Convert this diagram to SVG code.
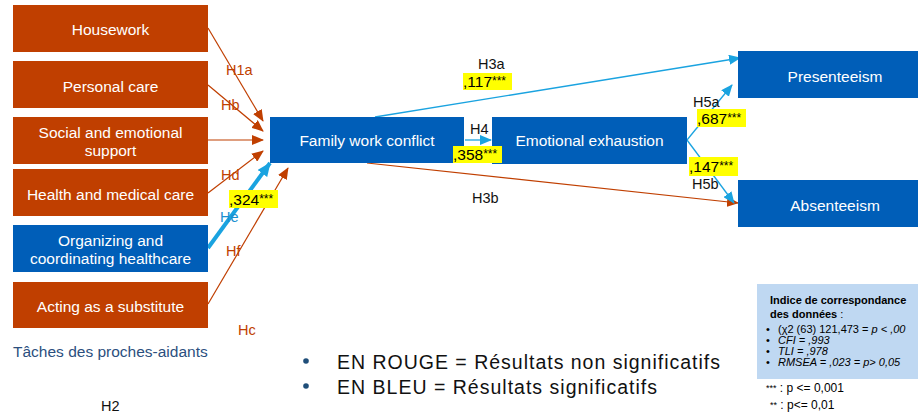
<svg xmlns="http://www.w3.org/2000/svg" width="918" height="416" viewBox="0 0 918 416">
<style>
  text { font-family: "Liberation Sans", Arial, sans-serif; }
  .red { fill: #C03F00; }
  .blue { fill: #005EB8; }
  .bt { fill: #FFFFFF; font-size: 15.5px; text-anchor: middle; }
  .hl { fill: #C03F00; font-size: 14.5px; }
  .hb { fill: #111111; font-size: 14.5px; }
  .yl { fill: #FFFF00; }
  .val { fill: #000000; font-size: 15.5px; }
  .st { font-size: 12px; }
  .lr { fill: none; stroke: #C03F00; stroke-width: 1.2; marker-end: url(#ar); }
  .lb { fill: none; stroke: #1AA3E0; stroke-width: 1.3; marker-end: url(#ab); }
  .fit { font-size: 11px; fill: #000; }
</style>
<defs>
  <marker id="ar" markerUnits="userSpaceOnUse" markerWidth="12" markerHeight="10" refX="11" refY="5" orient="auto">
    <path d="M0,0 L12,5 L0,10 z" fill="#C03F00"/>
  </marker>
  <marker id="ab" markerUnits="userSpaceOnUse" markerWidth="12" markerHeight="10" refX="11" refY="5" orient="auto">
    <path d="M0,0 L12,5 L0,10 z" fill="#1AA3E0"/>
  </marker>
  <marker id="abb" markerUnits="userSpaceOnUse" markerWidth="14" markerHeight="12" refX="13" refY="6" orient="auto">
    <path d="M0,0 L14,6 L0,12 z" fill="#1AA3E0"/>
  </marker>
</defs>

<g id="connectors">
  <line class="lr" x1="208" y1="28" x2="263" y2="121"/>
  <line class="lr" x1="208" y1="85" x2="263" y2="131"/>
  <line class="lr" x1="208" y1="140" x2="263" y2="140"/>
  <line class="lr" x1="208" y1="193" x2="263" y2="151"/>
  <line x1="208" y1="248" x2="270" y2="163" stroke="#1AA3E0" stroke-width="4" marker-end="url(#abb)"/>
  <line class="lr" x1="208" y1="304" x2="288" y2="168"/>
  <line class="lb" x1="375" y1="117" x2="740" y2="58"/>
  <line class="lb" x1="465" y1="140" x2="491" y2="140"/>
  <line class="lr" x1="367" y1="163" x2="738" y2="203"/>
  <line class="lb" x1="687" y1="140" x2="732" y2="85"/>
  <line class="lb" x1="687" y1="140" x2="734" y2="203"/>
</g>

<g id="housework">
  <rect class="red" x="13" y="5" width="195" height="47"/>
  <text class="bt" x="110.5" y="35">Housework</text>
</g>
<g id="personal-care">
  <rect class="red" x="13" y="61" width="195" height="47"/>
  <text class="bt" x="110.5" y="92">Personal care</text>
</g>
<g id="social-support">
  <rect class="red" x="13" y="117" width="195" height="47"/>
  <text class="bt" x="110.5" y="138">Social and emotional</text>
  <text class="bt" x="110.5" y="156">support</text>
</g>
<g id="health-care">
  <rect class="red" x="13" y="169" width="195" height="47"/>
  <text class="bt" x="110.5" y="200">Health and medical care</text>
</g>
<g id="organizing">
  <rect class="blue" x="13" y="225" width="195" height="47"/>
  <text class="bt" x="110.5" y="246">Organizing and</text>
  <text class="bt" x="110.5" y="264">coordinating healthcare</text>
</g>
<g id="substitute">
  <rect class="red" x="13" y="282" width="195" height="46"/>
  <text class="bt" x="110.5" y="312">Acting as a substitute</text>
</g>
<g id="family-work-conflict">
  <rect class="blue" x="270" y="117" width="194" height="46"/>
  <text class="bt" x="367" y="146">Family work conflict</text>
</g>
<g id="emotional-exhaustion">
  <rect class="blue" x="492" y="117" width="195" height="47"/>
  <text class="bt" x="589.5" y="146">Emotional exhaustion</text>
</g>
<g id="presenteeism">
  <rect class="blue" x="738" y="51" width="180" height="47"/>
  <text class="bt" x="835" y="82">Presenteeism</text>
</g>
<g id="absenteeism">
  <rect class="blue" x="738" y="180" width="180" height="47"/>
  <text class="bt" x="835" y="211">Absenteeism</text>
</g>

<g id="labels">
  <text class="hl" x="226" y="75">H1a</text>
  <text class="hl" x="221" y="110">Hb</text>
  <text class="hl" x="221" y="180">Hd</text>
  <text x="220" y="222" style="fill:#1A8FD0;font-size:14.5px">He</text>
  <text class="hl" x="226" y="256">Hf</text>
  <text class="hl" x="238" y="335">Hc</text>
  <text class="hb" x="101" y="411">H2</text>
  <text class="hb" x="478" y="69">H3a</text>
  <text class="hb" x="470" y="134">H4</text>
  <text class="hb" x="472" y="203">H3b</text>
  <text class="hb" x="693" y="107">H5a</text>
  <text class="hb" x="692" y="189">H5b</text>

  <rect class="yl" x="229" y="190" width="49" height="18"/>
  <text class="val" x="229" y="205">,324<tspan class="st" dy="-2">***</tspan></text>
  <rect class="yl" x="463" y="73" width="49" height="17"/>
  <text class="val" x="463" y="87">,117<tspan class="st" dy="-2">***</tspan></text>
  <rect class="yl" x="453" y="146" width="49" height="17"/>
  <text class="val" x="453" y="160">,358<tspan class="st" dy="-2">***</tspan></text>
  <rect class="yl" x="697" y="109" width="49" height="18"/>
  <text class="val" x="697" y="124">,687<tspan class="st" dy="-2">***</tspan></text>
  <rect class="yl" x="689" y="157" width="49" height="19"/>
  <text class="val" x="689" y="172">,147<tspan class="st" dy="-2">***</tspan></text>
</g>

<g id="taches-label">
  <text x="13" y="357" style="fill:#2B4F7E;font-size:15.5px">Tâches des proches-aidants</text>
</g>

<g id="legend">
  <circle cx="306" cy="361" r="2.8" fill="#1F4E79"/>
  <circle cx="306" cy="386" r="2.8" fill="#1F4E79"/>
  <text x="337" y="369" style="font-size:19.5px;fill:#111" textLength="383" lengthAdjust="spacing">EN  ROUGE  = Résultats non significatifs</text>
  <text x="337" y="394" style="font-size:19.5px;fill:#111" textLength="320" lengthAdjust="spacing">EN  BLEU = Résultats significatifs</text>
</g>

<g id="fit-index">
  <rect x="757" y="284" width="161" height="95" fill="#BFD8F2"/>
  <text class="fit" x="770" y="304" style="font-weight:bold">Indice de correspondance</text>
  <text class="fit" x="770" y="318"><tspan style="font-weight:bold">des données</tspan> :</text>
  <text class="fit" x="766" y="333">•</text>
  <text class="fit" x="778" y="333">(χ2 (63) 121,473 = <tspan font-style="italic">p &lt; ,00</tspan></text>
  <text class="fit" x="766" y="344">•</text>
  <text class="fit" x="778" y="344" font-style="italic">CFI = ,993</text>
  <text class="fit" x="766" y="355">•</text>
  <text class="fit" x="778" y="355" font-style="italic">TLI = ,978</text>
  <text class="fit" x="766" y="366">•</text>
  <text class="fit" x="778" y="366" font-style="italic">RMSEA = ,023  = p&gt; 0,05</text>
  <text class="fit" x="766" y="392" style="font-size:12px"><tspan style="font-size:9px" dy="-1">***</tspan><tspan dy="1"> : p &lt;= 0,001</tspan></text>
  <text class="fit" x="770" y="409" style="font-size:12px"><tspan style="font-size:9px" dy="-1">**</tspan><tspan dy="1">  : p&lt;= 0,01</tspan></text>
</g>
</svg>
